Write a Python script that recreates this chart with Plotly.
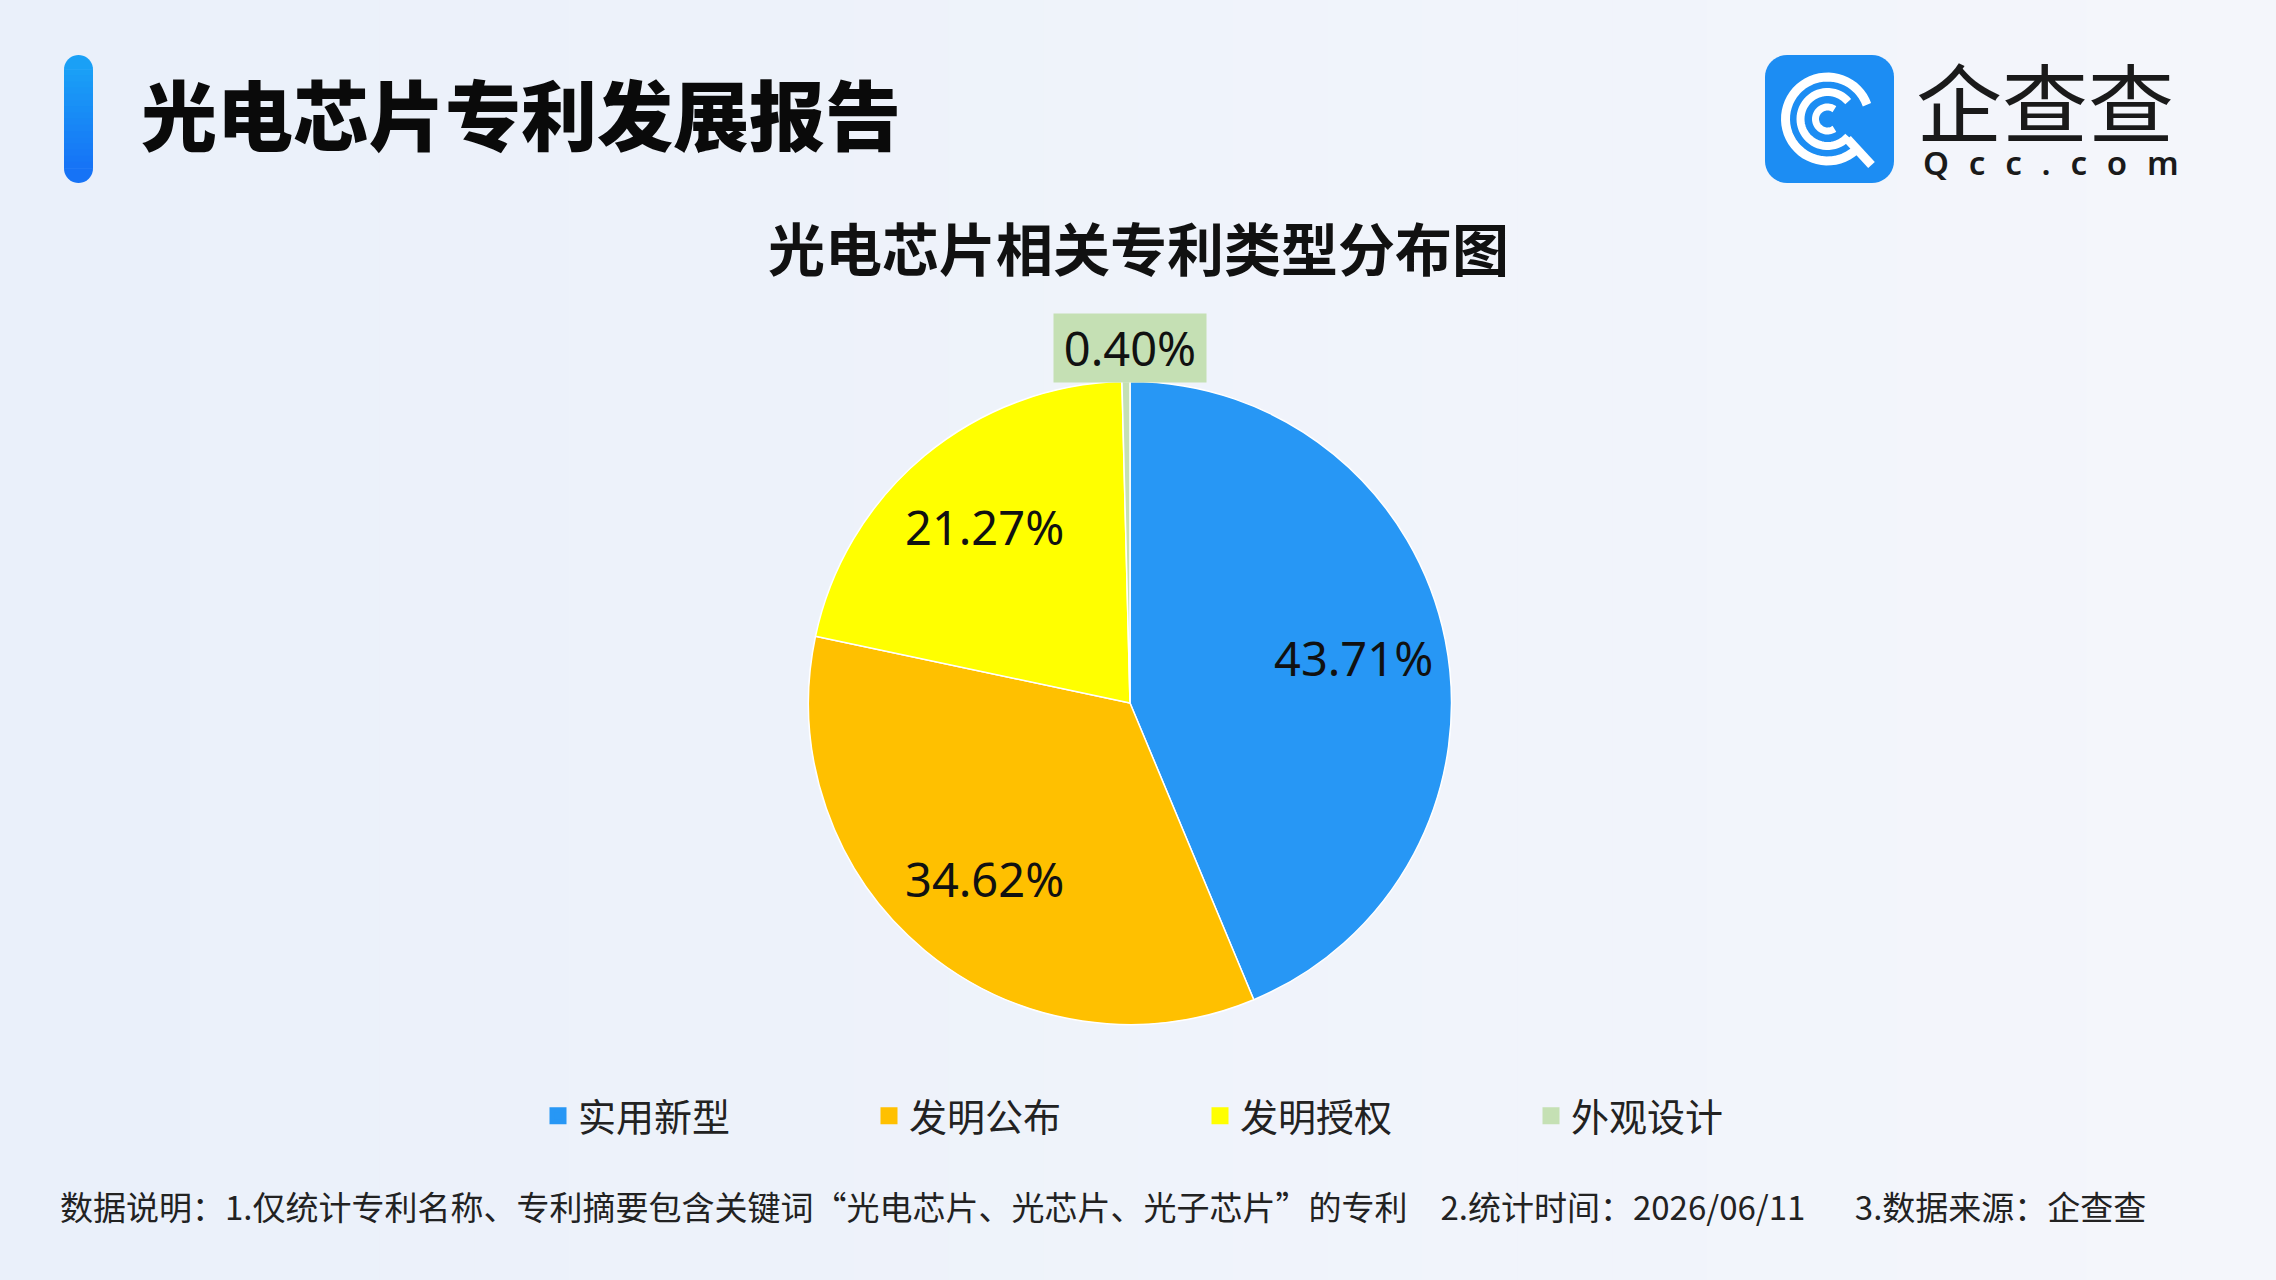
import math
import plotly.graph_objects as go

W, H = 2276, 1280

# ---------------- data ----------------
categories = ["实用新型", "发明公布", "发明授权", "外观设计"]
values = [43.71, 34.62, 21.27, 0.40]
colors = ["#2797F5", "#FFC000", "#FFFF00", "#C5E0B4"]
value_labels = [f"{v:.2f}%" for v in values]
title_main = "光电芯片专利发展报告"
chart_title = "光电芯片相关专利类型分布图"
footnote = ("数据说明：1.仅统计专利名称、专利摘要包含关键词“光电芯片、光芯片、光子芯片”的专利"
            "\u20032.统计时间：2026/06/11\u2003\u20023.数据来源：企查查")
brand_cn = "企查查"
brand_en = "\u2002\u200a".join("Qcc.com")

FONT = "Noto Sans CJK SC"


def X(px):
    return px / W


def Y(py):
    return 1 - py / H


def path_from(points, close=True):
    s = "M " + " L ".join(f"{X(x):.5f},{Y(y):.5f}" for x, y in points)
    return s + (" Z" if close else "")


def rounded_rect(x0, y0, x1, y1, r, n=10):
    pts = []
    corners = [(x1 - r, y0 + r, -90, 0), (x1 - r, y1 - r, 0, 90),
               (x0 + r, y1 - r, 90, 180), (x0 + r, y0 + r, 180, 270)]
    for cx, cy, a0, a1 in corners:
        for i in range(n + 1):
            a = math.radians(a0 + (a1 - a0) * i / n)
            pts.append((cx + r * math.cos(a), cy + r * math.sin(a)))
    return pts


def arc(cx, cy, r, a0, a1, n=48):
    pts = []
    for i in range(n + 1):
        a = math.radians(a0 + (a1 - a0) * i / n)
        pts.append((cx + r * math.cos(a), cy - r * math.sin(a)))
    return pts


def lerp_color(c0, c1, t):
    a = [int(c0[i:i + 2], 16) for i in (1, 3, 5)]
    b = [int(c1[i:i + 2], 16) for i in (1, 3, 5)]
    return "#" + "".join(f"{round(a[k] + (b[k] - a[k]) * t):02X}" for k in range(3))


shapes = []

# subtle background gradient
NS = 24
for i in range(NS):
    t = i / (NS - 1)
    shapes.append(dict(type="rect", xref="paper", yref="paper",
                       x0=i / NS, x1=(i + 1) / NS + 0.002, y0=0, y1=1,
                       fillcolor=lerp_color("#EAF0FA", "#F4F6FB", t),
                       line=dict(width=0), layer="below"))

# title accent bar (vertical gradient, rounded ends)
bx0, bx1, by0, by1 = 64, 93, 55, 183
br = (bx1 - bx0) / 2
shapes.append(dict(type="path", xref="paper", yref="paper",
                   path=path_from(arc((bx0 + bx1) / 2, by0 + br, br, 0, 180, 20)),
                   fillcolor="#1AA0F6", line=dict(width=0), layer="above"))
shapes.append(dict(type="path", xref="paper", yref="paper",
                   path=path_from(arc((bx0 + bx1) / 2, by1 - br, br, 180, 360, 20)),
                   fillcolor="#1673F6", line=dict(width=0), layer="above"))
NB = 16
seg = (by1 - by0 - 2 * br) / NB
for i in range(NB):
    t = (i + 0.5) / NB
    shapes.append(dict(type="rect", xref="paper", yref="paper",
                       x0=X(bx0), x1=X(bx1),
                       y0=Y(by0 + br + i * seg - 0.4), y1=Y(by0 + br + (i + 1) * seg + 0.4),
                       fillcolor=lerp_color("#1AA0F6", "#1673F6", t),
                       line=dict(width=0), layer="above"))

# logo: rounded blue square with white rings
lx0, ly0, lx1, ly1 = 1765, 55, 1894, 183
shapes.append(dict(type="path", xref="paper", yref="paper",
                   path=path_from(rounded_rect(lx0, ly0, lx1, ly1, 22)),
                   fillcolor="#1C8DF3", line=dict(width=0), layer="above"))
lcx, lcy = (lx0 + lx1) / 2 - 2, (ly0 + ly1) / 2
for r, a0, a1, w in [(42, 20, 318, 9), (27, 40, 320, 8), (12, 55, 305, 7)]:
    shapes.append(dict(type="path", xref="paper", yref="paper",
                       path=path_from(arc(lcx, lcy, r, a0, a1), close=False),
                       line=dict(color="white", width=w), layer="above"))
shapes.append(dict(type="path", xref="paper", yref="paper",
                   path=path_from([(lcx + 20, lcy + 20), (lcx + 44, lcy + 46)], close=False),
                   line=dict(color="white", width=9), layer="above"))

# pie geometry (pixels)
pie_cx, pie_cy, pie_r = 1130, 703, 321.5

annotations = [
    dict(text=title_main, x=X(139), y=Y(112), xref="paper", yref="paper",
         xanchor="left", yanchor="middle", showarrow=False,
         font=dict(family=FONT, size=76, color="#0A0A0A", weight=900)),
    dict(text=chart_title, x=X(1138), y=Y(246), xref="paper", yref="paper",
         xanchor="center", yanchor="middle", showarrow=False,
         font=dict(family=FONT, size=57, color="#111111", weight=700)),
    dict(text=brand_cn, x=X(1914), y=Y(99), xref="paper", yref="paper",
         xanchor="left", yanchor="middle", showarrow=False,
         font=dict(family=FONT, size=86, color="#1A1A1A", weight=400)),
    dict(text=brand_en, x=X(1921), y=Y(162), xref="paper", yref="paper",
         xanchor="left", yanchor="middle", showarrow=False,
         font=dict(family="Noto Sans", size=33, color="#1A1A1A", weight=600)),
    dict(text="\u2009" + value_labels[3] + "\u2009", x=X(pie_cx), y=Y(348),
         xref="paper", yref="paper",
         xanchor="center", yanchor="middle", showarrow=False,
         bgcolor=colors[3], borderpad=2,
         font=dict(family="Noto Sans", size=47, color="#111111")),
    dict(text=footnote, x=X(58), y=Y(1206), xref="paper", yref="paper",
         xanchor="left", yanchor="middle", showarrow=False,
         font=dict(family=FONT, size=33, color="#222222")),
]

# inside value labels, placed on each slice's mid-angle (clockwise from 12 o'clock)
total = sum(values)
cum = 0.0
for v, lab in zip(values[:3], value_labels[:3]):
    mid = math.radians((cum + v / 2) / total * 360)
    cum += v
    lx = pie_cx + 0.71 * pie_r * math.sin(mid)
    ly = pie_cy - 0.71 * pie_r * math.cos(mid)
    annotations.append(dict(text=lab, x=X(lx), y=Y(ly), xref="paper", yref="paper",
                            xanchor="center", yanchor="middle", showarrow=False,
                            font=dict(family="Noto Sans", size=47, color="#111111")))

dom = dict(x=[X(pie_cx - pie_r), X(pie_cx + pie_r)],
           y=[Y(pie_cy + pie_r), Y(pie_cy - pie_r)])
dom_in = dict(x=[X(pie_cx - pie_r + 5), X(pie_cx + pie_r - 5)],
              y=[Y(pie_cy + pie_r - 5), Y(pie_cy - pie_r + 5)])

fig = go.Figure()
# legend source (hidden beneath the main pie; gives larger legend squares)
fig.add_trace(go.Pie(
    labels=categories, values=values, sort=False, direction="clockwise", rotation=0,
    textinfo="none", hoverinfo="skip", showlegend=True,
    marker=dict(colors=colors, line=dict(color=colors, width=5)),
    domain=dom_in,
))
# main pie
fig.add_trace(go.Pie(
    labels=categories, values=values, sort=False, direction="clockwise", rotation=0,
    textinfo="none", hoverinfo="label+percent", showlegend=False,
    marker=dict(colors=colors, line=dict(color="white", width=1.5)),
    domain=dom,
))

fig.update_layout(
    width=W, height=H,
    margin=dict(l=0, r=0, t=0, b=0),
    paper_bgcolor="#EFF3FA",
    plot_bgcolor="rgba(0,0,0,0)",
    shapes=shapes,
    annotations=annotations,
    showlegend=True,
    legend=dict(orientation="h", x=X(538), y=Y(1116), xanchor="left", yanchor="middle",
                entrywidth=286, entrywidthmode="pixels", bgcolor="rgba(0,0,0,0)",
                font=dict(family=FONT, size=38, color="#222222"),
                itemclick=False, itemdoubleclick=False),
)

fig.write_html("out.html", config={"displayModeBar": False},
               post_script="document.body.style.margin='0';document.body.style.overflow='hidden';")
